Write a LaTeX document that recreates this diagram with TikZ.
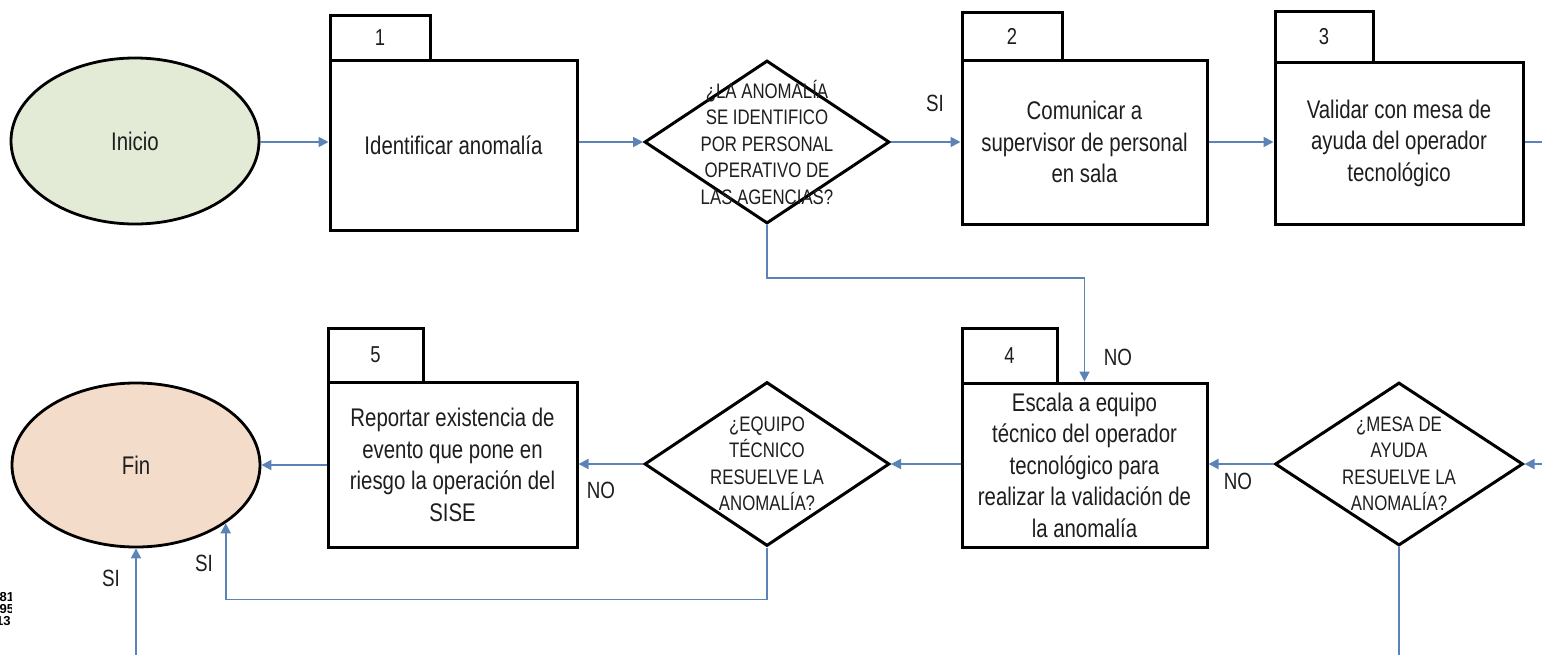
\documentclass[tikz,border=0pt]{standalone}
\usepackage{fontspec}
\setmainfont[FakeStretch=0.8]{Liberation Sans}
\newfontfamily\sidefont{Liberation Sans}
\usetikzlibrary{shapes.geometric,arrows.meta}
\definecolor{arrowblue}{HTML}{5B83B6}
\definecolor{txt}{HTML}{1E1E1E}
\definecolor{startgreen}{HTML}{E3EBD7}
\definecolor{endpeach}{HTML}{F4DCCB}
\begin{document}
\begin{tikzpicture}[x=1pt,y=-1pt,
  box/.style={draw=black,line width=3pt,rectangle,inner sep=0pt,align=center,text=txt,font=\fontsize{25.5}{31.5}\selectfont},
  tabbox/.style={draw=black,line width=3pt,rectangle,inner sep=0pt,text=txt,font=\fontsize{23}{23}\selectfont},
  term/.style={draw=black,line width=2.8pt,ellipse,inner sep=0pt,text=txt,font=\fontsize{25.5}{25.5}\selectfont},
  dia/.style={draw=black,line width=3pt,diamond,inner sep=0pt,minimum width=245pt,minimum height=163pt},
  dtext/.style={align=center,text=txt,font=\fontsize{21}{26.5}\selectfont,inner sep=0pt},
  lbl/.style={text=txt,font=\fontsize{23.5}{23.5}\selectfont,inner sep=0pt},
  arr/.style={draw=arrowblue,line width=1.8pt,-{Triangle[length=10pt,width=10pt]}},
  ln/.style={draw=arrowblue,line width=1.8pt},
  side/.style={font=\sidefont\fontsize{13}{13}\bfseries\selectfont,inner sep=0pt,anchor=west,text=black}]
\clip (0,0) rectangle (1542,654);
\fill[white] (0,0) rectangle (1542,654);

% terminals
\node[term,fill=startgreen,minimum width=248pt,minimum height=166pt] (ini) at (135,141) {Inicio};
\node[term,fill=endpeach,minimum width=248pt,minimum height=164pt] (fin) at (136,465) {Fin};

% boxes with tabs
\node[tabbox,minimum width=100pt,minimum height=45pt] (t1) at (380,37.5) {1};
\node[box,minimum width=247pt,minimum height=170pt] (b1) at (453.5,145) {Identificar anomalía};

\node[tabbox,minimum width=100pt,minimum height=48pt] (t2) at (1012,36) {2};
\node[box,minimum width=245pt,minimum height=164pt] (b2) at (1084.5,142) {Comunicar a\\supervisor de personal\\en sala};

\node[tabbox,minimum width=98pt,minimum height=51pt] (t3) at (1324,36.5) {3};
\node[box,minimum width=248pt,minimum height=162pt] (b3) at (1399,143) {Validar con mesa de\\ayuda del operador\\tecnológico};

\node[tabbox,minimum width=95pt,minimum height=55pt] (t4) at (1009.5,355.5) {4};
\node[box,minimum width=245pt,minimum height=164pt] (b4) at (1084.5,465) {Escala a equipo\\técnico del operador\\tecnológico para\\realizar la validación de\\la anomalía};

\node[tabbox,minimum width=95pt,minimum height=54pt] (t5) at (375.5,355) {5};
\node[box,minimum width=249pt,minimum height=165pt] (b5) at (452.5,465) {Reportar existencia de\\evento que pone en\\riesgo la operación del\\SISE};

% decisions
\node[dia] (d1) at (767,142) {};
\node[dtext] at (d1) {¿LA ANOMALÍA\\SE IDENTIFICO\\POR PERSONAL\\OPERATIVO DE\\LAS AGENCIAS?};
\node[dia,minimum height=164pt] (d2) at (767,464) {};
\node[dtext] at (d2) {¿EQUIPO\\TÉCNICO\\RESUELVE LA\\ANOMALÍA?};
\node[dia,minimum width=248pt] (d3) at (1399,464) {};
\node[dtext] at (d3) {¿MESA DE\\AYUDA\\RESUELVE LA\\ANOMALÍA?};

% off-page ends
\coordinate (rout) at (1560,142);
\coordinate (rin) at (1560,464);

% connectors
\draw[arr] (ini.east |- 0,142) -- (b1.west |- 0,142);
\draw[arr] (d1.west -| b1.east) -- (d1.west);
\draw[arr] (d1.east) -- (d1.east -| b2.west);
\draw[arr] (b2.east |- 0,142) -- (b3.west |- 0,142);
\draw[ln] (b3.east |- rout) -- (rout);
\draw[arr] (d1.south) -- ++(0,53) -| (b4.north);
\draw[arr] (rin) -- (d3.east);
\draw[arr] (d3.west) -- (d3.west -| b4.east);
\draw[arr] (d2.east -| b4.west) -- (d2.east);
\draw[arr] (d2.west) -- (d2.west -| b5.east);
\draw[arr] (b5.west |- fin.east) -- (fin.east);
\draw[arr] (d2.south) -- ++(0,52) -| (fin.-33);
\draw[arr] (d3.south) -- ++(0,130) -| (fin.south);

% labels
\node[lbl] (lsi1) at (935,103) {SI};
\node[lbl] (lno1) at (1118,357) {NO};
\node[lbl] (lno2) at (1238,481) {NO};
\node[lbl] (lno3) at (601,490) {NO};
\node[lbl] (lsi2) at (204,563) {SI};
\node[lbl] (lsi3) at (111,578) {SI};

% cropped side text
\begin{scope}
\clip (0,580) rectangle (11,640);
\node[side] (s1) at (-0.5,597) {81};
\node[side] (s2) at (-0.5,609) {95};
\node[side] (s3) at (-4,621) {13};
\end{scope}
\end{tikzpicture}
\end{document}
